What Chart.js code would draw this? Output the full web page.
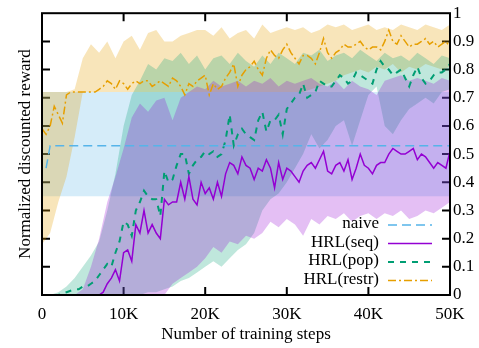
<!DOCTYPE html>
<html>
<head>
<meta charset="utf-8">
<script src="https://cdn.jsdelivr.net/npm/chart.js@4.4.1/dist/chart.umd.min.js"></script>
<style>
  html, body { margin: 0; padding: 0; background: #fff; }
  #wrap { width: 479px; height: 348px; }
</style>
</head>
<body>
<div id="wrap"><canvas id="rewardChart"></canvas></div>
<script>
// x grids (training steps)
const lineSteps = Array.from({ length: 101 }, (_, i) => i * 500)
const bandSteps = Array.from({ length: 51 }, (_, i) => i * 1000)
const xTicks = [0, 10000, 20000, 30000, 40000, 50000]

// naive baseline
const naiveSteps = [500, 1000, 50000]
const naiveMean = [0.45, 0.53, 0.53]
const naiveBandSteps = [0, 50000]
const naiveHi = [0.72, 0.72]
const naiveLo = [0.35, 0.35]

// HRL(seq)
const seqMean = [
  0, 0, 0, 0, 0, 0, 0, 0, 0, 0,
  0, 0, 0, 0, 0, 0.01, 0.04, 0.06, 0.09, 0.05,
  0.15, 0.16, 0.12, 0.25, 0.22, 0.30, 0.22, 0.25, 0.22, 0.20,
  0.34, 0.32, 0.33, 0.33, 0.40, 0.34, 0.42, 0.34, 0.32, 0.40,
  0.36, 0.38, 0.34, 0.40, 0.35, 0.43, 0.47, 0.46, 0.43, 0.49,
  0.46, 0.45, 0.41, 0.45, 0.44, 0.48, 0.45, 0.38, 0.47, 0.41,
  0.45, 0.44, 0.42, 0.40, 0.44, 0.46, 0.47, 0.45, 0.48, 0.51,
  0.44, 0.43, 0.46, 0.47, 0.44, 0.48, 0.41, 0.45, 0.50, 0.46,
  0.45, 0.43, 0.46, 0.47, 0.47, 0.50, 0.52, 0.51, 0.50, 0.50,
  0.51, 0.52, 0.48, 0.50, 0.49, 0.47, 0.45, 0.47, 0.46, 0.45,
  0.51
]
const seqHi = [
  0, 0, 0, 0, 0, 0.02, 0.10, 0.20, 0.33, 0.42,
  0.52, 0.63, 0.68, 0.65, 0.69, 0.70, 0.62, 0.70, 0.72, 0.74,
  0.73, 0.76, 0.74, 0.75, 0.76, 0.74, 0.76, 0.75, 0.77, 0.74,
  0.76, 0.75, 0.76, 0.77, 0.75, 0.74, 0.76, 0.73, 0.76, 0.74,
  0.73, 0.71, 0.76, 0.77, 0.78, 0.76, 0.77, 0.76, 0.75, 0.77,
  0.76
]
const seqLo = [
  0, 0, 0, 0, 0, 0, 0, 0, 0, 0,
  0, 0, 0, 0, 0, 0, 0.04, 0.06, 0.08, 0.10,
  0.13, 0.17, 0.15, 0.19, 0.18, 0.21, 0.20, 0.22, 0.26, 0.24,
  0.27, 0.25, 0.21, 0.27, 0.25, 0.28, 0.27, 0.29, 0.26, 0.28,
  0.29, 0.27, 0.29, 0.28, 0.30, 0.27, 0.28, 0.30, 0.29, 0.31,
  0.33
]

// HRL(pop)
const popMean = [
  0, 0, 0, 0, 0, 0.005, 0.01, 0.015, 0.02, 0.02,
  0.03, 0.03, 0.04, 0.05, 0.07, 0.09, 0.11, 0.10, 0.15, 0.19,
  0.26, 0.25, 0.21, 0.30, 0.33, 0.37, 0.35, 0.34, 0.34, 0.28,
  0.44, 0.40, 0.41, 0.46, 0.50, 0.50, 0.43, 0.46, 0.48, 0.49,
  0.51, 0.50, 0.51, 0.49, 0.50, 0.55, 0.64, 0.53, 0.57, 0.59,
  0.57, 0.56, 0.55, 0.62, 0.65, 0.58, 0.62, 0.62, 0.64, 0.57,
  0.66, 0.68, 0.70, 0.71, 0.75, 0.70, 0.71, 0.72, 0.76, 0.75,
  0.74, 0.74, 0.76, 0.78, 0.77, 0.75, 0.76, 0.79, 0.78, 0.77,
  0.76, 0.75, 0.80, 0.83, 0.81, 0.80, 0.78, 0.79, 0.80, 0.77,
  0.74, 0.78, 0.81, 0.77, 0.75, 0.76, 0.78, 0.79, 0.79, 0.80,
  0.82
]
const popHi = [
  0, 0, 0.01, 0.03, 0.06, 0.10, 0.14, 0.19, 0.30, 0.43,
  0.60, 0.71, 0.76, 0.82, 0.80, 0.84, 0.83, 0.86, 0.82, 0.85,
  0.80, 0.84, 0.85, 0.82, 0.86, 0.83, 0.81, 0.85, 0.82, 0.86,
  0.84, 0.82, 0.86, 0.85, 0.87, 0.83, 0.85, 0.86, 0.84, 0.87,
  0.85, 0.83, 0.86, 0.84, 0.85, 0.83, 0.86, 0.84, 0.82, 0.85,
  0.84
]
const popLo = [
  0, 0, 0, 0, 0, 0, 0, 0, 0, 0,
  0, 0, 0, 0.01, 0.01, 0.02, 0.03, 0.05, 0.06, 0.08,
  0.10, 0.12, 0.10, 0.13, 0.16, 0.18, 0.22, 0.30, 0.34, 0.36,
  0.40, 0.45, 0.50, 0.57, 0.52, 0.55, 0.60, 0.62, 0.53, 0.62,
  0.71, 0.74, 0.60, 0.57, 0.62, 0.66, 0.68, 0.70, 0.68, 0.72,
  0.73
]

// HRL(restr)
const restrMean = [
  0.59, 0.57, 0.60, 0.67, 0.64, 0.61, 0.71, 0.72, 0.72, 0.72,
  0.72, 0.72, 0.72, 0.72, 0.73, 0.74, 0.76, 0.75, 0.73, 0.76,
  0.75, 0.73, 0.75, 0.76, 0.75, 0.76, 0.76, 0.74, 0.75, 0.76,
  0.75, 0.74, 0.77, 0.76, 0.74, 0.71, 0.75, 0.74, 0.76, 0.77,
  0.78, 0.71, 0.75, 0.73, 0.74, 0.77, 0.79, 0.82, 0.74, 0.78,
  0.80, 0.81, 0.83, 0.80, 0.78, 0.84, 0.87, 0.85, 0.84, 0.87,
  0.89, 0.86, 0.84, 0.82, 0.85, 0.85, 0.84, 0.82, 0.86, 0.91,
  0.86, 0.84, 0.86, 0.87, 0.89, 0.88, 0.88, 0.89, 0.90, 0.88,
  0.87, 0.88, 0.88, 0.87, 0.90, 0.94, 0.90, 0.89, 0.92, 0.90,
  0.88, 0.89, 0.89, 0.90, 0.91, 0.89, 0.90, 0.88, 0.89, 0.90,
  0.88
]
const restrHi = [
  0.72, 0.72, 0.72, 0.72, 0.73, 0.84, 0.89, 0.86, 0.90, 0.84,
  0.90, 0.92, 0.87, 0.93, 0.94, 0.90, 0.90, 0.92, 0.93, 0.94,
  0.94, 0.92, 0.95, 0.91, 0.93, 0.94, 0.91, 0.96, 0.93, 0.94,
  0.95, 0.94, 0.95, 0.93, 0.94, 0.96, 0.95, 0.96, 0.94, 0.95,
  0.96, 0.94, 0.95, 0.94, 0.96, 0.95, 0.94, 0.96, 0.95, 0.94,
  0.96
]
const restrLo = [
  0.18, 0.22, 0.33, 0.42, 0.56, 0.72, 0.72, 0.72, 0.72, 0.72,
  0.72, 0.72, 0.72, 0.72, 0.72, 0.72, 0.72, 0.72, 0.72, 0.72,
  0.72, 0.72, 0.72, 0.72, 0.72, 0.72, 0.72, 0.72, 0.72, 0.72,
  0.72, 0.72, 0.72, 0.73, 0.74, 0.75, 0.76, 0.78, 0.79, 0.80,
  0.79, 0.81, 0.80, 0.82, 0.79, 0.81, 0.80, 0.82, 0.81, 0.80,
  0.81
]

const FONT = { family: "'Liberation Serif', 'Times New Roman', serif", size: 17 }
const pts = (xs, ys) => xs.map((x, i) => ({ x, y: ys[i] }))

function lineSet(label, xs, ys, color, dash, width) {
  return {
    label, data: pts(xs, ys), borderColor: color, borderDash: dash,
    borderWidth: width, pointRadius: 0, fill: false, tension: 0
  }
}
function bandPair(xs, hi, lo, fillColor) {
  return [
    { label: '', data: pts(xs, hi), borderWidth: 0, pointRadius: 0, fill: '+1', backgroundColor: fillColor },
    { label: '', data: pts(xs, lo), borderWidth: 0, pointRadius: 0, fill: false }
  ]
}

// inward tick marks under the fills
const tickMarks = {
  id: 'tickMarks',
  beforeDatasetsDraw(chart) {
    const { ctx, chartArea: a, scales: { x, y } } = chart
    ctx.save()
    ctx.strokeStyle = '#000'
    ctx.lineWidth = 2
    ctx.beginPath()
    xTicks.slice(1, -1).forEach(v => {
      const px = x.getPixelForValue(v)
      ctx.moveTo(px, a.bottom); ctx.lineTo(px, a.bottom - 8)
      ctx.moveTo(px, a.top); ctx.lineTo(px, a.top + 8)
    })
    for (let i = 1; i < 10; i++) {
      const py = y.getPixelForValue(i / 10)
      ctx.moveTo(a.left, py); ctx.lineTo(a.left + 8, py)
      ctx.moveTo(a.right, py); ctx.lineTo(a.right - 8, py)
    }
    ctx.stroke()
    ctx.restore()
  },
  afterDraw(chart) {
    const { ctx, chartArea: a } = chart
    ctx.save()
    ctx.strokeStyle = '#000'
    ctx.lineWidth = 2
    ctx.strokeRect(a.left, a.top, a.right - a.left, a.bottom - a.top)
    ctx.restore()
  }
}

// gnuplot style key: text right aligned, sample on the right
const keyBox = {
  id: 'keyBox',
  afterDatasetsDraw(chart) {
    const { ctx, chartArea: a } = chart
    const sets = chart.data.datasets.slice(0, 4)
    ctx.save()
    ctx.font = `${FONT.size}px ${FONT.family}`
    ctx.textAlign = 'right'
    ctx.textBaseline = 'middle'
    sets.forEach((d, i) => {
      const yy = a.bottom - 71 + i * 18.5
      ctx.fillStyle = '#000'
      ctx.fillText(d.label, a.right - 71, yy)
      ctx.strokeStyle = d.borderColor
      ctx.lineWidth = d.borderWidth
      ctx.setLineDash(d.borderDash || [])
      ctx.beginPath()
      ctx.moveTo(a.right - 62, yy + 1)
      ctx.lineTo(a.right - 18, yy + 1)
      ctx.stroke()
    })
    ctx.restore()
  }
}

const datasets = [
  lineSet('naive', naiveSteps, naiveMean, '#56b4e9', [9, 5], 1.5),
  lineSet('HRL(seq)', lineSteps, seqMean, '#9400d3', [], 1.5),
  lineSet('HRL(pop)', lineSteps, popMean, '#009e73', [6, 6], 2),
  lineSet('HRL(restr)', lineSteps, restrMean, '#e69f00', [8, 3, 2, 3], 1.5),
  ...bandPair(bandSteps, seqHi, seqLo, 'rgba(148,0,211,0.25)'),
  ...bandPair(bandSteps, popHi, popLo, 'rgba(0,158,115,0.25)'),
  ...bandPair(bandSteps, restrHi, restrLo, 'rgba(230,159,0,0.27)'),
  ...bandPair(naiveBandSteps, naiveHi, naiveLo, 'rgba(86,180,233,0.25)')
]

new Chart(document.getElementById('rewardChart'), {
  type: 'line',
  data: { datasets },
  plugins: [tickMarks, keyBox],
  options: {
    responsive: true, maintainAspectRatio: false, animation: false,
    layout: { padding: 0 },
    plugins: { legend: { display: false }, tooltip: { enabled: false } },
    scales: {
      x: {
        type: 'linear', min: 0, max: 50000, position: 'bottom',
        afterFit: s => { s.height = 53 },
        afterBuildTicks: s => { s.ticks = xTicks.map(v => ({ value: v })) },
        grid: { display: false, drawTicks: false }, border: { display: false },
        ticks: {
          color: '#000', font: FONT, padding: 9, maxRotation: 0, autoSkip: false,
          callback: v => v === 0 ? '0' : (v / 1000) + 'K'
        },
        title: { display: true, text: 'Number of training steps', color: '#000', font: FONT, padding: { top: 0, bottom: 3 } }
      },
      y: {
        min: 0, max: 1, position: 'left',
        afterFit: s => { s.width = 42 },
        grid: { display: false, drawTicks: false }, border: { display: false },
        ticks: { display: false },
        title: { display: true, text: 'Normalized discounted reward', color: '#000', font: FONT, padding: { top: 15, bottom: 0 } }
      },
      y2: {
        min: 0, max: 1, position: 'right',
        afterFit: s => { s.width = 29 },
        grid: { display: false, drawTicks: false }, border: { display: false },
        ticks: { stepSize: 0.1, color: '#000', font: FONT, padding: 3, callback: v => String(+v.toFixed(1)) }
      }
    }
  }
})
</script>
</body>
</html>
